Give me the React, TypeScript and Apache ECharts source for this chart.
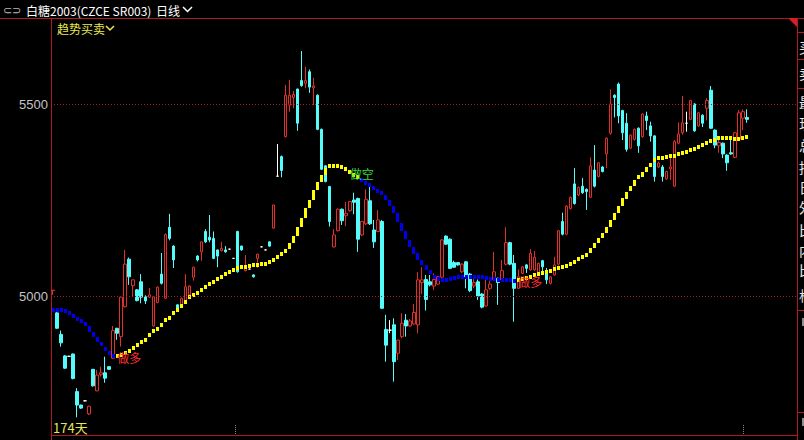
import React, { useEffect, useRef } from "react";
import * as echarts from "echarts";

// ---- data ----
const opens = [
  5014, 4956, 4900, 4844, 4843, 4849, 4751, 4716, 4727, 4693,
  4809, 4753, 4795, 4800, 4816, 4838, 4916, 4894, 4972, 5096,
  5027, 5016, 5037, 4998, 4997, 4922, 4983, 5057, 4994, 5179,
  5130, 4977, 4974, 4985, 5003, 5049, 5104, 5115, 5168, 5153,
  5150, 5120, 5118, 5120, 5122, 5098, 5168, 5130, 5066, 5070,
  5055, 5098, 5128, 5120, 5141, 5177, 5312, 5363, 5415, 5497,
  5517, 5539, 5561, 5554, 5584, 5542, 5523, 5434, 5339, 5285,
  5128, 5170, 5226, 5209, 5222, 5250, 5254, 5159, 5188, 5248,
  5172, 5168, 5194, 4913, 4911, 4925, 4851, 4894, 4937, 4922,
  4927, 4925, 5035, 5043, 5037, 5026, 5031, 5049, 5156, 5148,
  5087, 5087, 5063, 5089, 5057, 5026, 5037, 5005, 4974, 5020,
  5043, 5046, 5042, 5083, 5139, 5085, 5020, 5059, 5081, 5068,
  5068, 5061, 5092, 5066, 5033, 5055, 5083, 5194, 5161, 5228,
  5292, 5263, 5286, 5278, 5257, 5328, 5311, 5336, 5370, 5424,
  5523, 5552, 5483, 5450, 5385, 5408, 5437, 5415, 5469, 5443,
  5417, 5336, 5336, 5305, 5331, 5286, 5398, 5425, 5450, 5460,
  5500, 5443, 5471, 5489, 5536, 5432, 5391, 5398, 5367, 5373,
  5361, 5408, 5463, 5465,
];
const closes = [
  5015, 4916, 4878, 4812, 4843, 4785, 4716, 4708, 4727, 4713,
  4766, 4794, 4800, 4786, 4809, 4910, 4903, 4997, 5083, 5050,
  5042, 4988, 4997, 4987, 5003, 4998, 5023, 5033, 5160, 5150,
  5094, 4964, 4994, 5024, 5026, 5075, 5094, 5141, 5141, 5146,
  5098, 5104, 5124, 5115, 5122, 5098, 5063, 5120, 5078, 5070,
  5050, 5109, 5128, 5120, 5130, 5237, 5312, 5327, 5523, 5523,
  5525, 5450, 5548, 5561, 5544, 5547, 5434, 5330, 5298, 5194,
  5159, 5226, 5196, 5215, 5246, 5244, 5148, 5194, 5252, 5188,
  5141, 5198, 4968, 4872, 4911, 4829, 4885, 4929, 4922, 4935,
  4957, 5042, 5042, 4991, 5029, 5043, 5050, 5146, 5135, 5072,
  5075, 5081, 5083, 5050, 5014, 5035, 5000, 4971, 5016, 5031,
  5063, 5035, 5066, 5139, 5083, 5020, 5050, 5076, 5072, 5111,
  5101, 5085, 5076, 5042, 5050, 5081, 5170, 5161, 5234, 5257,
  5241, 5283, 5269, 5272, 5339, 5286, 5347, 5324, 5411, 5500,
  5517, 5469, 5425, 5382, 5419, 5434, 5391, 5474, 5457, 5417,
  5311, 5346, 5311, 5324, 5336, 5402, 5422, 5451, 5450, 5509,
  5430, 5477, 5450, 5509, 5437, 5393, 5400, 5370, 5347, 5370,
  5425, 5477, 5480, 5460,
];
const lows = [
  5003, 4914, 4868, 4810, 4842, 4783, 4684, 4706, 4726, 4690,
  4764, 4752, 4790, 4774, 4808, 4836, 4886, 4868, 4970, 5029,
  4998, 4986, 4981, 4979, 4995, 4920, 4981, 5030, 4992, 5145,
  5073, 4962, 4972, 4983, 5000, 5040, 5090, 5092, 5138, 5140,
  5096, 5075, 5116, 5113, 5121, 5097, 5061, 5118, 5064, 5069,
  5048, 5073, 5127, 5119, 5128, 5175, 5311, 5309, 5413, 5480,
  5489, 5430, 5545, 5541, 5529, 5497, 5432, 5328, 5296, 5181,
  5126, 5168, 5185, 5182, 5220, 5213, 5115, 5156, 5185, 5185,
  5125, 5166, 4966, 4829, 4903, 4777, 4833, 4890, 4894, 4920,
  4925, 4903, 5005, 4962, 5025, 5016, 5029, 5047, 5133, 5070,
  5073, 5079, 5060, 5020, 5010, 5020, 4990, 4968, 4972, 5016,
  5040, 4977, 5040, 5080, 5080, 4933, 5018, 5057, 5060, 5066,
  5066, 5059, 5055, 5031, 5030, 5053, 5080, 5158, 5158, 5225,
  5238, 5260, 5266, 5224, 5255, 5283, 5309, 5322, 5333, 5420,
  5465, 5450, 5406, 5376, 5383, 5405, 5373, 5412, 5432, 5402,
  5298, 5333, 5298, 5303, 5302, 5284, 5395, 5420, 5428, 5458,
  5428, 5441, 5440, 5457, 5435, 5385, 5373, 5359, 5326, 5368,
  5359, 5406, 5432, 5451,
];
const highs = [
  5015, 4966, 4910, 4846, 4844, 4850, 4760, 4717, 4728, 4714,
  4810, 4807, 4816, 4842, 4817, 4922, 4917, 4998, 5120, 5100,
  5043, 5018, 5057, 5002, 5021, 5000, 5025, 5112, 5163, 5214,
  5132, 4978, 4996, 5057, 5028, 5076, 5106, 5142, 5174, 5211,
  5168, 5121, 5141, 5130, 5123, 5099, 5170, 5131, 5107, 5071,
  5056, 5110, 5129, 5121, 5142, 5238, 5396, 5366, 5550, 5563,
  5534, 5540, 5638, 5597, 5590, 5568, 5525, 5436, 5341, 5287,
  5174, 5228, 5228, 5245, 5247, 5269, 5256, 5196, 5278, 5285,
  5198, 5224, 5198, 4951, 4937, 4942, 4886, 4955, 4953, 4940,
  4979, 5062, 5075, 5055, 5055, 5059, 5052, 5148, 5158, 5150,
  5092, 5088, 5085, 5091, 5060, 5044, 5043, 5008, 5049, 5039,
  5115, 5048, 5094, 5179, 5141, 5107, 5069, 5078, 5083, 5122,
  5117, 5087, 5094, 5073, 5052, 5102, 5172, 5217, 5236, 5259,
  5333, 5285, 5307, 5280, 5361, 5393, 5349, 5338, 5413, 5538,
  5525, 5556, 5485, 5476, 5421, 5436, 5439, 5476, 5480, 5454,
  5419, 5350, 5341, 5326, 5365, 5406, 5452, 5521, 5480, 5511,
  5502, 5479, 5473, 5515, 5547, 5434, 5408, 5400, 5369, 5413,
  5427, 5484, 5486, 5486,
];
// 趋势买卖 indicator line value per bar
const trendValues = [
  4963, 4963, 4963, 4961, 4956, 4949, 4941, 4931, 4921, 4906,
  4894, 4881, 4871, 4862, 4853, 4845, 4844, 4847, 4852, 4857,
  4865, 4872, 4880, 4891, 4900, 4909, 4919, 4930, 4939, 4949,
  4960, 4970, 4980, 4990, 4997, 5004, 5009, 5017, 5023, 5031,
  5038, 5044, 5051, 5057, 5062, 5068, 5073, 5075, 5077, 5079,
  5081, 5082, 5083, 5085, 5089, 5094, 5102, 5111, 5122, 5138,
  5156, 5180, 5203, 5229, 5251, 5276, 5296, 5315, 5333, 5338,
  5338, 5338, 5336, 5331, 5323, 5316, 5310, 5302, 5296, 5289,
  5282, 5273, 5263, 5250, 5234, 5215, 5191, 5169, 5147, 5128,
  5111, 5094, 5081, 5069, 5059, 5051, 5046, 5043, 5043, 5046,
  5048, 5049, 5051, 5051, 5051, 5050, 5049, 5049, 5047, 5046,
  5044, 5043, 5042, 5042, 5042, 5041, 5042, 5044, 5047, 5051,
  5055, 5057, 5060, 5064, 5066, 5070, 5073, 5075, 5078, 5083,
  5089, 5096, 5103, 5113, 5125, 5138, 5151, 5165, 5181, 5198,
  5216, 5234, 5255, 5272, 5286, 5302, 5311, 5323, 5335, 5346,
  5354, 5359, 5361, 5363, 5365, 5366, 5370, 5373, 5376, 5380,
  5384, 5389, 5393, 5399, 5404, 5408, 5411, 5412, 5412, 5412,
  5410, 5410, 5413, 5415,
];
// trend direction changes: start bar, 1 = up (yellow), -1 = down (blue)
const trendTurnStarts = [0, 16, 77, 116];
const trendTurnDirs = [-1, 1, -1, 1];
const signalBars = [16, 74, 116];
const signalTexts = ["做多", "做空", "做多"];
const yTickValues = [5000, 5500];
const totalSlots = 186;
const titleText = "白糖2003(CZCE SR003)";
const periodText = "日线";
const indicatorText = "趋势买卖";
const dayCountText = "174天";
const sideTexts = ["买", "卖", "最", "现", "总", "持", "日", "外", "比", "内", "比", "格"];

const RED_LINE = "#b01c1c";
const CJK = '"Noto Sans CJK SC", "Microsoft YaHei", sans-serif';

export default function App() {
  const ref = useRef<HTMLDivElement>(null);

  useEffect(() => {
    document.body.style.margin = "0";
    document.body.style.background = "#000";
    const chart = echarts.init(ref.current as HTMLDivElement, null, { renderer: "svg" });

    const slots = Array.from({ length: totalSlots }, (_, i) => String(i));
    const candles = opens.map((o, i) => [o, closes[i], lows[i], highs[i]]);

    const dirOf = (i: number) => {
      let d = trendTurnDirs[0];
      for (let k = 0; k < trendTurnStarts.length; k++) if (i >= trendTurnStarts[k]) d = trendTurnDirs[k];
      return d;
    };
    const trendData = trendValues.map((v, i) => [i, v, i > 0 ? trendValues[i - 1] : v, dirOf(i)]);
    const signalData = signalBars.map((b, k) => [b, trendValues[b], k]);

    const sideYs = [47, 73, 102, 123, 145, 167, 187, 207, 230, 250, 270, 295];

    const graphic: any[] = [
      // frame lines
      { type: "line", shape: { x1: 0, y1: 18.5, x2: 804, y2: 18.5 }, style: { stroke: RED_LINE, lineWidth: 1 }, silent: true },
      { type: "line", shape: { x1: 51.5, y1: 18, x2: 51.5, y2: 440 }, style: { stroke: RED_LINE, lineWidth: 1 }, silent: true },
      { type: "line", shape: { x1: 797.5, y1: 18, x2: 797.5, y2: 440 }, style: { stroke: RED_LINE, lineWidth: 1 }, silent: true },
      { type: "line", shape: { x1: 51, y1: 435.5, x2: 797, y2: 435.5 }, style: { stroke: RED_LINE, lineWidth: 1 }, silent: true },
      ...[32.5, 59.5, 88.5, 310.5, 412.5].map((y) => ({
        type: "line", shape: { x1: 797, y1: y, x2: 804, y2: y }, style: { stroke: RED_LINE, lineWidth: 1 }, silent: true,
      })),
      { type: "polygon", shape: { points: [[788, 18], [797, 18], [797, 27]] }, style: { fill: "#d42020" }, silent: true },
      // title bar
      { type: "text", x: 3, y: 10, style: { text: "⊂⊃", fill: "#b8b8b8", font: "11px sans-serif", verticalAlign: "middle" }, silent: true },
      { type: "text", x: 26, y: 10, style: { text: titleText, fill: "#ffffff", font: `12px ${CJK}`, verticalAlign: "middle" }, silent: true },
      { type: "text", x: 156, y: 10, style: { text: periodText, fill: "#ffffff", font: `12px ${CJK}`, verticalAlign: "middle" }, silent: true },
      { type: "polyline", shape: { points: [[183, 7], [187.5, 11.5], [192, 7]] }, style: { stroke: "#ffffff", lineWidth: 1.5, fill: "none" }, silent: true },
      // indicator name
      { type: "text", x: 57, y: 28, style: { text: indicatorText, fill: "#eaea50", font: `12px ${CJK}`, verticalAlign: "middle" }, silent: true },
      { type: "polyline", shape: { points: [[106, 26], [110, 30], [114, 26]] }, style: { stroke: "#eaea50", lineWidth: 1.5, fill: "none" }, silent: true },
      // day count
      { type: "text", x: 53, y: 427, style: { text: dayCountText, fill: "#e6e65a", font: `13px ${CJK}`, verticalAlign: "middle" }, silent: true },
      // date separators
      { type: "line", shape: { x1: 235.5, y1: 425, x2: 235.5, y2: 435 }, style: { stroke: "#8a8a8a", lineWidth: 1, lineDash: [1, 1] }, silent: true },
      { type: "line", shape: { x1: 743.5, y1: 425, x2: 743.5, y2: 435 }, style: { stroke: "#8a8a8a", lineWidth: 1, lineDash: [1, 1] }, silent: true },
      // right column (cut off by the window edge, as in the reference)
      ...sideTexts.map((t, k) => ({
        type: "text", x: 799, y: sideYs[k], style: { text: t, fill: "#e8e8e8", font: `14px ${CJK}`, verticalAlign: "middle" }, silent: true,
      })),
      { type: "rect", shape: { x: 802, y: 318, width: 2, height: 8 }, style: { fill: "#909090" }, silent: true },
      { type: "rect", shape: { x: 802, y: 418, width: 2, height: 8 }, style: { fill: "#909090" }, silent: true },
    ];

    chart.setOption({
      animation: false,
      backgroundColor: "#000000",
      grid: { left: 51, right: 7, top: 18, bottom: 5, containLabel: false },
      xAxis: {
        type: "category",
        data: slots,
        boundaryGap: true,
        axisLine: { show: false },
        axisTick: { show: false },
        axisLabel: { show: false },
        splitLine: { show: false },
      },
      yAxis: {
        type: "value",
        min: 4638,
        max: 5724,
        axisLine: { show: false },
        axisTick: { show: false },
        splitLine: { show: false },
        axisLabel: {
          customValues: yTickValues,
          formatter: (v: number) => String(v),
          color: "#c4c4c4",
          fontSize: 13,
          fontFamily: '"Liberation Sans", Arial, sans-serif',
          margin: 3,
        },
      },
      series: [
        {
          type: "candlestick",
          data: candles,
          barWidth: 3,
          z: 3,
          itemStyle: {
            color: "#000000",
            color0: "#54fcfc",
            borderColor: "#e0302c",
            borderColor0: "#54fcfc",
            borderColorDoji: "#ffffff",
            borderWidth: 1,
          },
          markLine: {
            silent: true,
            symbol: ["none", "none"],
            label: { show: false },
            lineStyle: { color: "#a81c1c", type: [1, 2], width: 1 },
            data: yTickValues.map((v) => ({ yAxis: v })),
          },
        },
        {
          type: "custom",
          z: 4,
          data: trendData,
          encode: { x: 0, y: 1 },
          renderItem: (params: any, api: any) => {
            const i = api.value(0);
            const v = api.value(1);
            const pv = api.value(2);
            const dir = api.value(3);
            const p1 = api.coord([i, v]);
            const p0 = api.coord([i, pv]);
            let y = Math.min(p0[1], p1[1]);
            let h = Math.abs(p1[1] - p0[1]);
            if (h < 3.5) {
              y = p1[1] - 1.75;
              h = 3.5;
            }
            return {
              type: "rect",
              shape: { x: Math.round(p1[0] - 1.5), y: Math.round(y), width: 3, height: Math.round(h) },
              style: { fill: dir > 0 ? "#ffff00" : "#0000f0" },
            };
          },
        },
        {
          type: "custom",
          z: 6,
          data: signalData,
          encode: { x: 0, y: 1 },
          renderItem: (params: any, api: any) => {
            const b = api.value(0);
            const v = api.value(1);
            const k = api.value(2);
            const p = api.coord([b, v]);
            const txt = signalTexts[k];
            return {
              type: "text",
              z2: 10,
              x: p[0],
              y: p[1] + 2,
              style: {
                text: txt,
                fill: txt === "做多" ? "#ff3030" : "#3cdc3c",
                font: `12px ${CJK}`,
                align: "left",
                verticalAlign: "middle",
              },
            };
          },
        },
      ],
      graphic,
    });

    return () => chart.dispose();
  }, []);

  return (
    <div
      ref={ref}
      style={{ position: "absolute", left: 0, top: 0, width: 804, height: 440, background: "#000" }}
    />
  );
}
